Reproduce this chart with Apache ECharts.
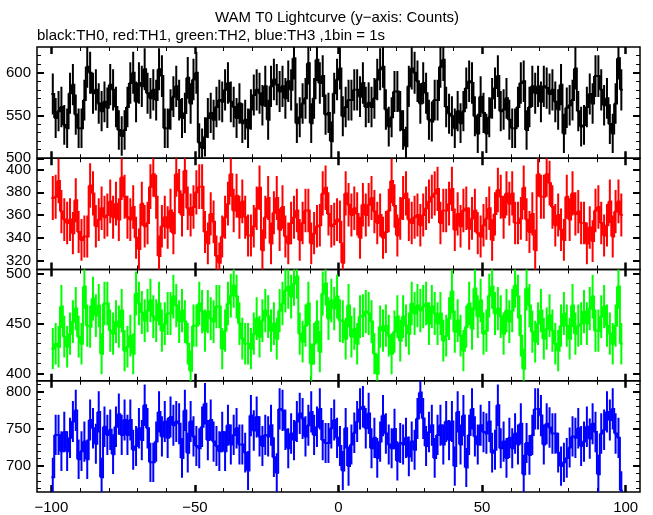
<!DOCTYPE html>
<html><head><meta charset="utf-8">
<script src="https://cdn.jsdelivr.net/npm/echarts@6/dist/echarts.min.js"></script>
<style>html,body{margin:0;padding:0;background:#fff}#c{width:653px;height:515px}</style>
</head><body><div id="c"></div>
<script>
// Counts per 1 s bin, bins from -100 s to +99 s
const th0 = [575,547,555,560,539,535,576,586,551,535,535,568,607,600,576,580,564,555,566,559,586,580,560,533,526,533,560,588,600,566,588,584,604,576,570,580,568,604,596,535,535,557,572,584,568,547,553,594,564,592,600,518,512,525,547,553,545,560,568,566,580,588,566,560,
547,564,541,545,535,557,574,580,576,562,584,545,584,592,586,578,584,570,590,580,617,541,548,564,570,611,541,570,615,588,596,551,553,520,576,592,605,549,560,568,568,580,580,572,588,560,565,560,570,592,604,607,557,537,548,578,578,555,533,514,584,605,600,590,564,588,576,545,
543,568,568,607,615,560,552,549,535,555,541,555,582,590,588,549,529,572,553,529,548,570,582,596,555,557,570,545,535,535,560,588,590,533,560,584,576,584,566,584,582,575,580,566,557,586,529,559,562,568,605,555,537,539,560,575,564,596,596,580,562,570,540,529,564,617,580];
const th1 = [375,376,390,363,356,353,356,344,373,345,338,341,341,386,379,350,356,366,358,360,372,358,370,356,393,376,358,356,367,340,330,370,350,353,385,396,376,324,350,358,349,364,344,396,381,360,399,366,360,367,380,385,385,345,335,361,354,324,318,341,358,370,396,364,
377,358,372,358,342,342,350,366,384,329,358,375,335,362,375,347,367,341,335,353,358,364,338,353,364,364,335,344,350,351,379,384,361,350,352,356,354,318,379,369,360,366,361,340,369,360,369,375,363,353,360,340,345,364,390,368,342,357,375,379,356,353,358,360,351,360,366,372,
376,379,383,353,364,364,370,383,347,361,350,364,366,348,357,364,344,341,351,357,366,338,361,382,376,358,379,370,379,353,353,357,384,356,345,361,329,396,376,376,396,388,367,351,360,347,338,376,356,379,361,363,353,353,335,349,337,364,367,353,342,351,372,341,363,372,360];
const th2 = [425,430,427,467,437,427,440,452,465,437,430,487,448,447,475,458,468,420,470,470,443,440,452,447,463,423,427,438,420,480,470,461,453,463,473,457,453,470,443,450,460,460,477,468,452,463,452,430,403,448,448,470,462,443,462,455,452,467,467,425,443,470,478,488,
477,450,435,430,430,425,440,455,437,453,463,457,443,450,435,463,470,483,487,477,490,497,440,432,448,470,410,430,452,422,480,490,455,473,465,477,453,452,435,468,437,445,430,457,458,462,460,452,420,400,447,443,448,438,420,442,457,433,457,448,440,470,460,468,463,467,470,450,
467,460,450,460,433,438,455,482,442,453,438,423,447,470,445,485,457,473,440,443,478,487,460,465,457,440,463,452,463,488,477,438,405,485,468,442,432,450,463,435,445,458,443,430,423,448,460,448,435,468,440,448,450,462,450,465,477,443,443,457,467,448,440,430,448,487,430];
const th3 = [685,742,742,720,746,720,738,760,775,709,720,733,709,762,751,730,773,685,753,742,749,716,753,770,742,762,742,762,722,727,751,735,782,751,705,705,733,773,740,760,738,766,755,760,757,711,775,718,760,740,727,724,753,784,735,762,733,727,720,746,720,755,729,742,
751,729,729,718,694,768,748,766,740,727,742,740,755,712,691,777,775,749,724,744,735,760,771,764,740,755,773,742,753,777,735,731,731,751,762,738,727,694,751,700,729,745,760,777,780,751,771,724,738,711,733,768,744,729,724,750,707,731,729,738,713,733,722,764,799,764,727,746,
755,711,742,755,729,760,735,760,700,773,729,768,698,742,777,740,729,755,746,744,760,718,722,782,724,733,711,738,724,744,729,757,689,731,715,742,777,777,768,729,757,752,744,744,718,700,705,711,725,740,738,751,727,733,753,737,757,746,689,744,749,773,762,777,744,738,667];
const firstBinStart = -100;   // s
const binWidth = 1;           // s

const titleText = 'WAM T0 Lightcurve (y\u2212axis: Counts)';
const subText = 'black:TH0, red:TH1, green:TH2, blue:TH3 ,1bin = 1s';

const xRange = [-105, 105];
const xMajor = [-100, -50, 0, 50, 100];
const xMinor = [-90,-80,-70,-60,-40,-30,-20,-10,10,20,30,40,60,70,80,90];
const yRanges = [[500, 630], [312, 410], [393, 504], [665, 815]];
const yMajor = [[500, 550, 600], [320, 340, 360, 380, 400], [400, 450, 500], [700, 750, 800]];
const yMinor = [[510,520,530,540,560,570,580,590,610,620],
                [330,350,370,390],
                [410,420,430,440,460,470,480,490],
                [670,680,690,710,720,730,740,760,770,780,790,810]];

const panels = [th0, th1, th2, th3];
const colors = ['#000000', '#ff0000', '#00ff00', '#0000ff'];
const FONT = 'Liberation Sans';
const top0 = 47, H = 111.25;

const grids = [], xAxes = [], yAxes = [], series = [];
const fmt = v => (v < 0 ? '\u2212' + Math.abs(v) : String(v));

panels.forEach((vals, i) => {
  grids.push({left: 37, right: 13, top: top0 + i * H, height: H, show: true,
              borderColor: '#000', borderWidth: 1.5, backgroundColor: 'transparent'});
  const xa = (pos, ticks, len, w, lab) => ({
    type: 'value', gridIndex: i, position: pos, min: xRange[0], max: xRange[1],
    axisLine: {show: false, onZero: false}, splitLine: {show: false},
    axisTick: {show: true, inside: true, length: len, customValues: ticks, lineStyle: {color: '#000', width: w}},
    axisLabel: lab ? {show: true, customValues: ticks, formatter: fmt, color: '#000',
                      fontFamily: FONT, fontSize: 15, margin: 8} : {show: false}
  });
  xAxes.push(xa('bottom', xMajor, 7, 2.5, i === 3));
  xAxes.push(xa('bottom', xMinor, 4, 1, false));
  xAxes.push(xa('top', xMajor, 7, 2.5, false));
  xAxes.push(xa('top', xMinor, 4, 1, false));
  const ya = (pos, ticks, len, w, lab) => ({
    type: 'value', gridIndex: i, position: pos, min: yRanges[i][0], max: yRanges[i][1],
    axisLine: {show: false, onZero: false}, splitLine: {show: false},
    axisTick: {show: true, inside: true, length: len, customValues: ticks, lineStyle: {color: '#000', width: w}},
    axisLabel: lab ? {show: true, customValues: ticks, color: '#000',
                      fontFamily: FONT, fontSize: 15, margin: 6} : {show: false}
  });
  yAxes.push(ya('left', yMajor[i], 7, 2, true));
  yAxes.push(ya('left', yMinor[i], 4, 1, false));
  yAxes.push(ya('right', yMajor[i], 7, 2, false));
  yAxes.push(ya('right', yMinor[i], 4, 1, false));

  const data = vals.map((v, k) => [firstBinStart + binWidth * (k + 0.5), v,
                                   k + 1 < vals.length ? vals[k + 1] : v]);
  const col = colors[i];
  series.push({
    type: 'custom', xAxisIndex: 4 * i, yAxisIndex: 4 * i, clip: true, silent: true,
    data: data, encode: {x: 0, y: 1},
    renderItem: (params, api) => {
      const x = api.value(0), y = api.value(1), yn = api.value(2);
      const e = Math.sqrt(y);
      const a = api.coord([x - binWidth / 2, y]);
      const b = api.coord([x + binWidth / 2, y]);
      const c = api.coord([x + binWidth / 2, yn]);
      const t = api.coord([x, y + e]);
      const u = api.coord([x, y - e]);
      const st = {stroke: col, lineWidth: 2, fill: null};
      return {type: 'group', children: [
        {type: 'polyline', shape: {points: [a, b, c]}, style: st},
        {type: 'line', shape: {x1: t[0], y1: t[1], x2: u[0], y2: u[1]}, style: st}
      ]};
    }
  });
});

const chart = echarts.init(document.getElementById('c'), null, {renderer: 'canvas'});
chart.setOption({
  animation: false,
  backgroundColor: '#fff',
  title: [
    {text: titleText, left: 337, top: 10, textAlign: 'center', padding: 0,
     textStyle: {fontFamily: FONT, fontSize: 15, fontWeight: 'normal', color: '#000'}},
    {text: subText, left: 37, top: 28, padding: 0,
     textStyle: {fontFamily: FONT, fontSize: 15, fontWeight: 'normal', color: '#000'}}
  ],
  grid: grids, xAxis: xAxes, yAxis: yAxes, series: series
});
</script></body></html>
